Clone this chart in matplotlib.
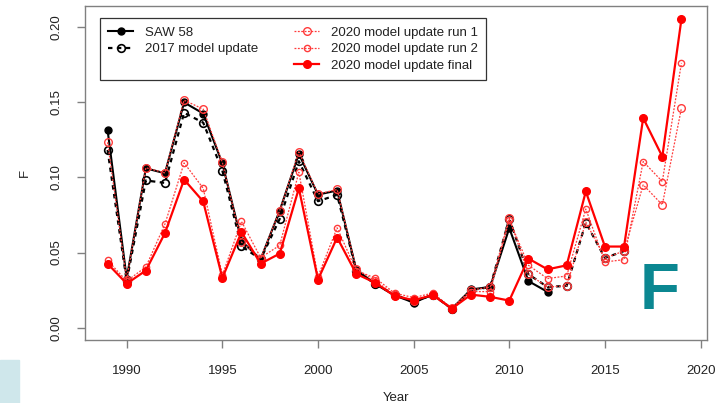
import matplotlib
matplotlib.use("Agg")
import matplotlib.pyplot as plt
from matplotlib.lines import Line2D
from matplotlib.patches import Rectangle
import numpy as np

plt.rcParams['font.family'] = ['Liberation Sans', 'DejaVu Sans']

years_saw = list(range(1989, 2013))
saw58 = [0.1316, 0.0327, 0.1061, 0.1028, 0.1500, 0.1426, 0.1094, 0.0577, 0.0455, 0.0780,
         0.1157, 0.0886, 0.0913, 0.0385, 0.0290, 0.0215, 0.0167, 0.0220, 0.0125, 0.0254,
         0.0271, 0.0663, 0.0310, 0.0238]

years_2017 = list(range(1989, 2017))
upd2017 = [0.1183, 0.0310, 0.0980, 0.0964, 0.1431, 0.1365, 0.1046, 0.0543, 0.0455, 0.0725,
           0.1108, 0.0842, 0.0884, 0.0380, 0.0290, 0.0220, 0.0170, 0.0220, 0.0125, 0.0250,
           0.0270, 0.0725, 0.0355, 0.0271, 0.0278, 0.0700, 0.0464, 0.0510]

years_2020 = list(range(1989, 2020))
run1 = [0.1234, 0.0320, 0.1065, 0.1030, 0.1515, 0.1455, 0.1100, 0.0570, 0.0460, 0.0780,
        0.1170, 0.0890, 0.0920, 0.0390, 0.0310, 0.0220, 0.0180, 0.0220, 0.0130, 0.0250,
        0.0270, 0.0730, 0.0355, 0.0271, 0.0278, 0.0703, 0.0464, 0.0510, 0.0951, 0.0818,
        0.1462]
run2 = [0.0448, 0.0310, 0.0404, 0.0690, 0.1097, 0.0928, 0.0350, 0.0707, 0.0466, 0.0548,
        0.1035, 0.0340, 0.0665, 0.0380, 0.0330, 0.0230, 0.0200, 0.0230, 0.0130, 0.0240,
        0.0240, 0.0720, 0.0415, 0.0327, 0.0344, 0.0790, 0.0437, 0.0453, 0.1106, 0.0973,
        0.1763]
final = [0.0426, 0.0293, 0.0380, 0.0630, 0.0986, 0.0840, 0.0331, 0.0636, 0.0426, 0.0493,
         0.0928, 0.0320, 0.0600, 0.0358, 0.0298, 0.0211, 0.0183, 0.0216, 0.0127, 0.0220,
         0.0205, 0.0180, 0.0460, 0.0388, 0.0415, 0.0907, 0.0540, 0.0540, 0.1396, 0.1139,
         0.2055]

x_ticks = [1990, 1995, 2000, 2005, 2010, 2015, 2020]
y_ticks = [0.00, 0.05, 0.10, 0.15, 0.20]

W, H = 717, 403
fig = plt.figure(figsize=(W / 100, H / 100), dpi=100)
ax = fig.add_axes([85 / W, 1 - 340 / H, (706.7 - 85) / W, (340 - 6) / H])

h_saw, = ax.plot(years_saw, saw58, color='black', lw=1.5, marker='o', ms=5,
                 mfc='black', mec='black', label='SAW 58')
h_17, = ax.plot(years_2017, upd2017, color='black', lw=1.6, ls=(0, (2, 2)), marker='o', ms=5.5,
                mfc='none', mec='black', mew=1.2, label='2017 model update')
h_r1, = ax.plot(years_2020, run1, color='#ff3b3b', lw=0.9, ls=(0, (1.5, 1.2)), marker='o', ms=5.5,
                mfc='none', mec='#ff3b3b', mew=1.0, label='2020 model update run 1')
h_r2, = ax.plot(years_2020, run2, color='#ff3b3b', lw=0.9, ls=(0, (1.5, 1.2)), marker='o', ms=4.5,
                mfc='none', mec='#ff3b3b', mew=1.0, label='2020 model update run 2')
h_fin, = ax.plot(years_2020, final, color='#ff0000', lw=1.6, marker='o', ms=5.5,
                 mfc='#ff0000', mec='#ff0000', label='2020 model update final')

ax.set_xlim(1987.82, 2020.32)
ax.set_ylim(-0.00824, 0.2142)
ax.set_xticks(x_ticks)
ax.set_xticklabels([str(v) for v in x_ticks])
ax.set_yticks(y_ticks)
ax.set_yticklabels([f"{v:.2f}" for v in y_ticks], rotation=90, va='center')

for s in ax.spines.values():
    s.set_color('#808080')
    s.set_linewidth(1.0)
ax.tick_params(axis='both', colors='#808080', labelcolor='#222222', length=6, width=1.0,
               labelsize=9.5)
ax.tick_params(axis='x', pad=12)
ax.tick_params(axis='y', pad=10)

ax.set_xlabel('Year', fontsize=9.5, color='#222222', labelpad=11)
ax.set_ylabel('F', fontsize=9.5, color='#222222', labelpad=14)

blank = Line2D([], [], linestyle='none')
leg = ax.legend([h_saw, h_17, blank, h_r1, h_r2, h_fin],
                ['SAW 58', '2017 model update', '', '2020 model update run 1',
                 '2020 model update run 2', '2020 model update final'],
                ncol=2, loc='upper left', bbox_to_anchor=(0.0241, 0.9632),
                borderaxespad=0, fontsize=9.5, frameon=True, fancybox=False,
                edgecolor='#333333', framealpha=1, handlelength=1.9, handletextpad=0.9,
                columnspacing=2.7, labelspacing=0.32, borderpad=0.62)
leg.get_frame().set_linewidth(0.9)
for t in leg.get_texts():
    t.set_color('#222222')

fig.text(660 / W, 1 - 292 / H, 'F', ha='center', va='center', fontsize=47,
         fontweight='bold', color='#0b8791')

fig.patches.append(Rectangle((0, 0), 19 / W, 43 / H, transform=fig.transFigure,
                             color='#cfe7eb', zorder=0))

fig.savefig('out.png', dpi=100)
